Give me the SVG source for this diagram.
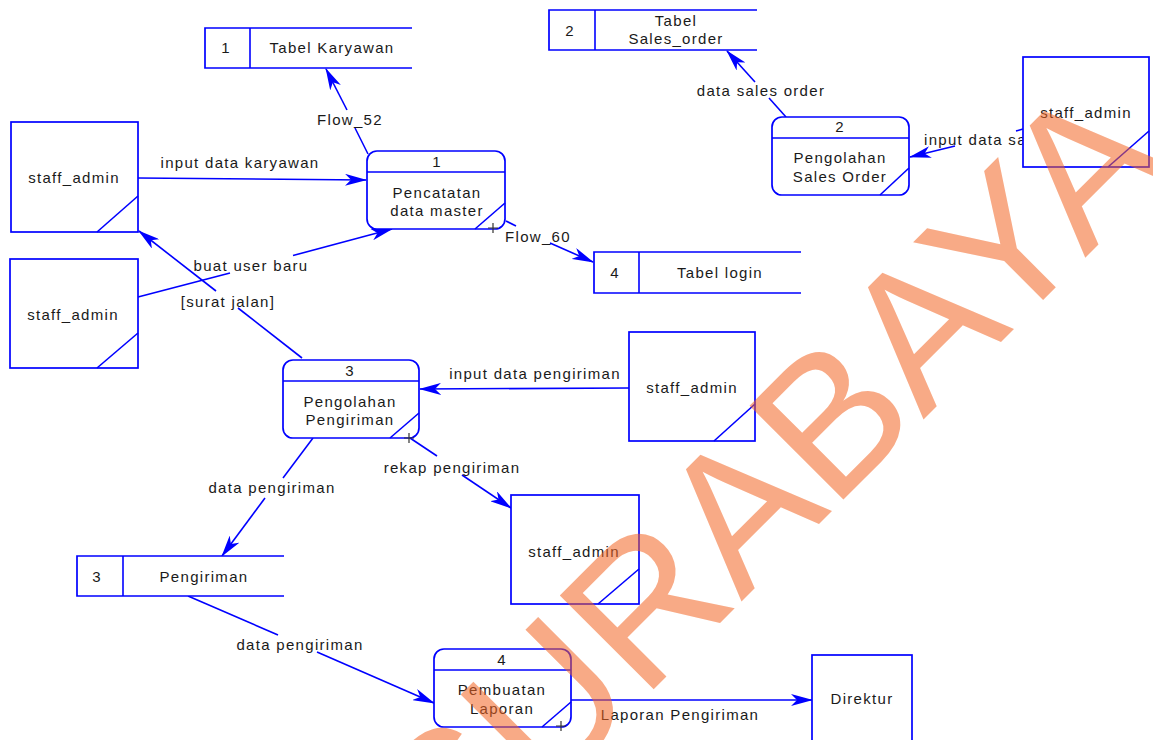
<svg xmlns="http://www.w3.org/2000/svg" width="1153" height="740" viewBox="0 0 1153 740">
<defs>
<style>
.b{fill:#fff;stroke:#0000ff;stroke-width:1.7}
.l{fill:none;stroke:#0000ff;stroke-width:1.6}
.t{font-family:"Liberation Sans",Arial,sans-serif;font-size:15px;fill:#1a1a1a;letter-spacing:1.3px}
.m{text-anchor:middle}
.x{stroke:#333;stroke-width:1.2}
</style>
<marker id="ah" markerUnits="userSpaceOnUse" markerWidth="22" markerHeight="12" viewBox="0 0 22 12" refX="21" refY="6" orient="auto">
<path d="M0,0 L22,6 L0,12 L6,6 z" fill="#0000ff"/>
</marker>
</defs>
<rect width="1153" height="740" fill="#fff"/>

<g id="connectors">
<line class="l" x1="138" y1="178" x2="366" y2="180" marker-end="url(#ah)"/>
<text class="t m" x="240" y="168">input data karyawan</text>

<line class="l" x1="368" y1="154" x2="355" y2="128"/>
<line class="l" x1="347" y1="110" x2="326" y2="69" marker-end="url(#ah)"/>
<text class="t m" x="350" y="125">Flow_52</text>

<line class="l" x1="138" y1="297" x2="230" y2="273"/>
<line class="l" x1="293" y1="255.5" x2="392" y2="229" marker-end="url(#ah)"/>
<text class="t m" x="251" y="271">buat user baru</text>

<line class="l" x1="302" y1="358" x2="238" y2="308"/>
<line class="l" x1="216" y1="291" x2="139" y2="231" marker-end="url(#ah)"/>
<text class="t m" x="228" y="307">[surat jalan]</text>

<line class="l" x1="506" y1="221" x2="516" y2="226"/>
<line class="l" x1="550" y1="243" x2="593" y2="262" marker-end="url(#ah)"/>
<text class="t m" x="538" y="242">Flow_60</text>

<line class="l" x1="786" y1="117" x2="769" y2="98"/>
<line class="l" x1="755" y1="82" x2="727" y2="51" marker-end="url(#ah)"/>
<text class="t m" x="761" y="96">data sales order</text>

<line class="l" x1="1023" y1="129" x2="1016" y2="131"/>
<line class="l" x1="955" y1="146" x2="910" y2="157" marker-end="url(#ah)"/>
<text class="t" x="924" y="145">input data sales order</text>

<line class="l" x1="629" y1="388" x2="420" y2="389" marker-end="url(#ah)"/>
<text class="t m" x="535" y="379">input data pengiriman</text>

<line class="l" x1="410" y1="438" x2="437" y2="456"/>
<line class="l" x1="462" y1="475" x2="511" y2="508" marker-end="url(#ah)"/>
<text class="t m" x="452" y="473">rekap pengiriman</text>

<line class="l" x1="313" y1="438" x2="283" y2="478"/>
<line class="l" x1="265" y1="498" x2="222" y2="556" marker-end="url(#ah)"/>
<text class="t m" x="272" y="493">data pengiriman</text>

<line class="l" x1="188" y1="596" x2="278" y2="635"/>
<line class="l" x1="317" y1="652" x2="434" y2="703" marker-end="url(#ah)"/>
<text class="t m" x="300" y="650">data pengiriman</text>

<line class="l" x1="571" y1="700" x2="812" y2="700" marker-end="url(#ah)"/>
<text class="t m" x="680" y="720">Laporan Pengiriman</text>
</g>

<g id="ds1">
<path class="b" d="M412,28 H205 V68 H412"/>
<line class="l" x1="250" y1="28" x2="250" y2="68"/>
<text class="t m" x="226" y="53">1</text>
<text class="t m" x="332" y="53">Tabel Karyawan</text>
</g>
<g id="ds2">
<path class="b" d="M757,10 H549 V50 H757"/>
<line class="l" x1="595" y1="10" x2="595" y2="50"/>
<text class="t m" x="570" y="36">2</text>
<text class="t m" x="676" y="26">Tabel</text>
<text class="t m" x="676" y="44">Sales_order</text>
</g>
<g id="ds4">
<path class="b" d="M801,252 H594 V293 H801"/>
<line class="l" x1="639" y1="252" x2="639" y2="293"/>
<text class="t m" x="615" y="278">4</text>
<text class="t m" x="720" y="278">Tabel login</text>
</g>
<g id="ds3">
<path class="b" d="M284,556 H77 V596 H284"/>
<line class="l" x1="123" y1="556" x2="123" y2="596"/>
<text class="t m" x="97" y="582">3</text>
<text class="t m" x="204" y="582">Pengiriman</text>
</g>

<g id="p1">
<rect class="b" x="367" y="151" width="138" height="78" rx="10"/>
<line class="l" x1="367" y1="172" x2="505" y2="172"/>
<line class="l" x1="475" y1="229" x2="505" y2="203"/>
<path class="x" d="M488,228 H498 M493,223 V233"/>
<text class="t m" x="437" y="167">1</text>
<text class="t m" x="437" y="198">Pencatatan</text>
<text class="t m" x="437" y="216">data master</text>
</g>
<g id="p2">
<rect class="b" x="772" y="117" width="137" height="78" rx="10"/>
<line class="l" x1="772" y1="138" x2="909" y2="138"/>
<line class="l" x1="880" y1="195" x2="909" y2="168"/>
<text class="t m" x="840" y="132">2</text>
<text class="t m" x="840" y="163">Pengolahan</text>
<text class="t m" x="840" y="182">Sales Order</text>
</g>
<g id="p3">
<rect class="b" x="283" y="360" width="136" height="78" rx="10"/>
<line class="l" x1="283" y1="381" x2="419" y2="381"/>
<line class="l" x1="390" y1="438" x2="419" y2="413"/>
<path class="x" d="M404,438 H414 M409,433 V443"/>
<text class="t m" x="350" y="376">3</text>
<text class="t m" x="350" y="407">Pengolahan</text>
<text class="t m" x="350" y="425">Pengiriman</text>
</g>
<g id="p4">
<rect class="b" x="434" y="649" width="137" height="78" rx="10"/>
<line class="l" x1="434" y1="670" x2="571" y2="670"/>
<line class="l" x1="542" y1="727" x2="571" y2="702"/>
<path class="x" d="M556,726 H566 M561,721 V731"/>
<text class="t m" x="502" y="665">4</text>
<text class="t m" x="502" y="695">Pembuatan</text>
<text class="t m" x="502" y="714">Laporan</text>
</g>

<g id="e1">
<rect class="b" x="11" y="122" width="127" height="110"/>
<line class="l" x1="97" y1="232" x2="138" y2="196"/>
<text class="t m" x="74" y="183">staff_admin</text>
</g>
<g id="e2">
<rect class="b" x="10" y="259" width="128" height="109"/>
<line class="l" x1="97" y1="368" x2="138" y2="333"/>
<text class="t m" x="73" y="320">staff_admin</text>
</g>
<g id="e3">
<rect class="b" x="629" y="332" width="126" height="109"/>
<line class="l" x1="714" y1="441" x2="755" y2="404"/>
<text class="t m" x="692" y="393">staff_admin</text>
</g>
<g id="e4">
<rect class="b" x="511" y="495" width="128" height="109"/>
<line class="l" x1="598" y1="604" x2="639" y2="569"/>
<text class="t m" x="574" y="557">staff_admin</text>
</g>
<g id="e5">
<rect class="b" x="1023" y="57" width="126" height="110"/>
<line class="l" x1="1108" y1="167" x2="1149" y2="131"/>
<text class="t m" x="1086" y="118">staff_admin</text>
</g>
<g id="direktur">
<rect class="b" x="812" y="655" width="100" height="100"/>
<text class="t m" x="862" y="704">Direktur</text>
</g>

<text transform="translate(453,890) rotate(-45)" font-family="Liberation Sans, Arial, sans-serif" font-size="193" fill="#F26522" fill-opacity="0.55">SURABAYA</text>
</svg>
